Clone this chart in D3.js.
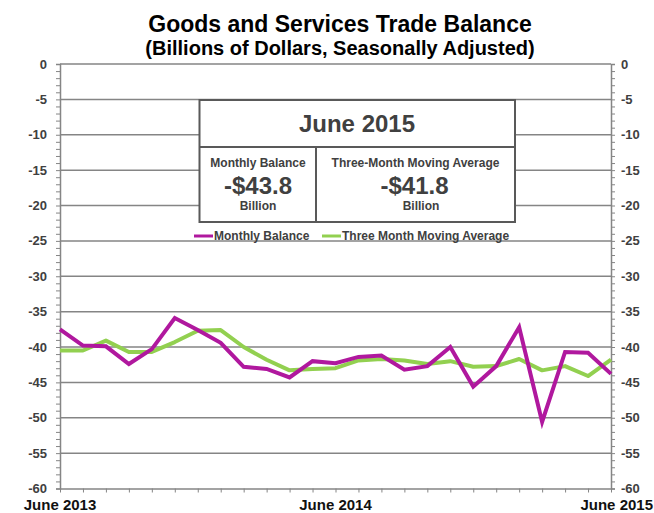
<!DOCTYPE html>
<html>
<head>
<meta charset="utf-8">
<script src="https://cdn.jsdelivr.net/npm/d3@7"></script>
<style>
  body { margin: 0; background: #fff; }
  svg { display: block; font-family: "Liberation Sans", Arial, sans-serif; }
</style>
</head>
<body>
<div id="chart"></div>
<script>
// Goods and Services Trade Balance, June 2013 - June 2015
const months = ["Jun 2013", "Jul 2013", "Aug 2013", "Sep 2013", "Oct 2013", "Nov 2013", "Dec 2013",
  "Jan 2014", "Feb 2014", "Mar 2014", "Apr 2014", "May 2014", "Jun 2014", "Jul 2014", "Aug 2014",
  "Sep 2014", "Oct 2014", "Nov 2014", "Dec 2014", "Jan 2015", "Feb 2015", "Mar 2015", "Apr 2015",
  "May 2015", "Jun 2015"];
const monthlyBalance = [-37.5, -39.8, -39.9, -42.4, -40.3, -35.9, -37.6, -39.4, -42.8, -43.1, -44.3, -42.0,
  -42.3, -41.4, -41.2, -43.2, -42.7, -40.0, -45.6, -42.7, -37.2, -50.6, -40.7, -40.8, -43.8];
const movingAverage = [-40.5, -40.5, -39.1, -40.7, -40.7, -39.3, -37.7, -37.6, -40.0, -41.8, -43.3, -43.1,
  -43.0, -41.9, -41.7, -41.9, -42.4, -42.0, -42.8, -42.7, -41.7, -43.3, -42.7, -44.1, -41.8];
const xLabels = [["Jun 2013", "June 2013"], ["Jun 2014", "June 2014"], ["Jun 2015", "June 2015"]];
const yTicks = d3.range(0, -61, -5);

const width = 654, height = 513;
const plot = { left: 60, right: 611, top: 64, bottom: 488.5 };
const textColor = "#404040";

const svg = d3.select("#chart").append("svg")
  .attr("width", width)
  .attr("height", height);

const x = d3.scalePoint().domain(months).range([plot.left, plot.right]);
const y = d3.scaleLinear().domain([0, -60]).range([plot.top, plot.bottom]);

// Title
svg.append("text")
  .attr("x", 340).attr("y", 31.5)
  .attr("text-anchor", "middle")
  .style("font-size", "23px").style("font-weight", "bold")
  .style("fill", "#000")
  .text("Goods and Services Trade Balance");

svg.append("text")
  .attr("x", 340).attr("y", 55)
  .attr("text-anchor", "middle")
  .style("font-size", "20px").style("font-weight", "bold")
  .style("fill", "#000")
  .text("(Billions of Dollars, Seasonally Adjusted)");

// Gridlines
svg.append("g")
  .selectAll("line")
  .data(yTicks.slice(0, -1))
  .join("line")
  .attr("x1", plot.left).attr("x2", plot.right)
  .attr("y1", d => y(d)).attr("y2", d => y(d))
  .attr("stroke", "#858585")
  .attr("stroke-width", 1.5);

// Left and right axes with minor ticks
const leftAxis = svg.append("g")
  .attr("transform", `translate(${plot.left},0)`)
  .call(d3.axisLeft(y).tickValues(d3.range(0, -61, -1)).tickSize(4).tickFormat(""));
leftAxis.select(".domain").attr("stroke", "#858585").attr("stroke-width", 1.5);
leftAxis.selectAll(".tick line").attr("stroke", "#858585");

const rightAxis = svg.append("g")
  .attr("transform", `translate(${plot.right},0)`)
  .call(d3.axisRight(y).tickValues(d3.range(0, -61, -1)).tickSize(4).tickFormat(""));
rightAxis.select(".domain").attr("stroke", "#858585").attr("stroke-width", 1.5);
rightAxis.selectAll(".tick line").attr("stroke", "#858585");

// Y tick labels
svg.append("g")
  .selectAll("text")
  .data(yTicks)
  .join("text")
  .attr("x", 47).attr("y", d => y(d))
  .attr("dy", "0.35em")
  .attr("text-anchor", "end")
  .style("font-size", "13px").style("font-weight", "bold")
  .style("fill", textColor)
  .text(d => d);

svg.append("g")
  .selectAll("text")
  .data(yTicks)
  .join("text")
  .attr("x", 621).attr("y", d => y(d))
  .attr("dy", "0.35em")
  .attr("text-anchor", "start")
  .style("font-size", "13px").style("font-weight", "bold")
  .style("fill", textColor)
  .text(d => d);

// X axis
const xAxis = svg.append("g")
  .attr("transform", `translate(0,${plot.bottom})`)
  .call(d3.axisBottom(x).tickSize(4).tickFormat("").tickSizeOuter(0));
xAxis.select(".domain").attr("stroke", "#858585").attr("stroke-width", 1.5);
xAxis.selectAll(".tick line").attr("stroke", "#858585");

svg.append("g")
  .selectAll("text")
  .data(xLabels)
  .join("text")
  .attr("x", (d, i) => i === xLabels.length - 1 ? 653 : x(d[0]))
  .attr("y", 510)
  .attr("text-anchor", (d, i) => i === xLabels.length - 1 ? "end" : "middle")
  .style("font-size", "15px").style("font-weight", "bold")
  .style("fill", "#111")
  .text(d => d[1]);

// Lines
const line = d3.line()
  .x((d, i) => x(months[i]))
  .y(d => y(d));

svg.append("path")
  .datum(movingAverage)
  .attr("fill", "none")
  .attr("stroke", "#92d050")
  .attr("stroke-width", 4)
  .attr("stroke-linejoin", "round")
  .attr("d", line);

svg.append("path")
  .datum(monthlyBalance)
  .attr("fill", "none")
  .attr("stroke", "#b0189e")
  .attr("stroke-width", 4)
  .attr("stroke-linejoin", "miter")
  .attr("d", line);

// Info box
const box = svg.append("g");
box.append("rect")
  .attr("x", 199.5).attr("y", 100)
  .attr("width", 315.5).attr("height", 122)
  .attr("fill", "#fff")
  .attr("stroke", "#595959").attr("stroke-width", 2);
box.append("line")
  .attr("x1", 199.5).attr("x2", 515).attr("y1", 147).attr("y2", 147)
  .attr("stroke", "#595959").attr("stroke-width", 2);
box.append("line")
  .attr("x1", 316).attr("x2", 316).attr("y1", 147).attr("y2", 222)
  .attr("stroke", "#595959").attr("stroke-width", 2);

const boxText = [
  { t: "June 2015", x: 357, y: 131.5, size: 24 },
  { t: "Monthly Balance", x: 258, y: 166.5, size: 12 },
  { t: "-$" + Math.abs(monthlyBalance[monthlyBalance.length - 1]).toFixed(1), x: 258, y: 194, size: 24 },
  { t: "Billion", x: 258, y: 210, size: 12 },
  { t: "Three-Month Moving Average", x: 415.5, y: 166.5, size: 12 },
  { t: "-$" + Math.abs(movingAverage[movingAverage.length - 1]).toFixed(1), x: 414.5, y: 194, size: 24 },
  { t: "Billion", x: 421, y: 210, size: 12 }
];
box.selectAll("text.info")
  .data(boxText)
  .join("text")
  .attr("class", "info")
  .attr("x", d => d.x).attr("y", d => d.y)
  .attr("text-anchor", "middle")
  .style("font-size", d => d.size + "px").style("font-weight", "bold")
  .style("fill", textColor)
  .text(d => d.t);

// Legend
const legend = [
  { label: "Monthly Balance", color: "#b0189e", x: 194 },
  { label: "Three Month Moving Average", color: "#92d050", x: 322 }
];
const lg = svg.append("g").selectAll("g")
  .data(legend)
  .join("g")
  .attr("transform", d => `translate(${d.x},236)`);
lg.append("line")
  .attr("x1", 0).attr("x2", 19)
  .attr("stroke", d => d.color).attr("stroke-width", 3);
lg.append("text")
  .attr("x", 20).attr("y", 3.5)
  .style("font-size", "12px").style("font-weight", "bold")
  .style("fill", textColor)
  .text(d => d.label);
</script>
</body>
</html>
